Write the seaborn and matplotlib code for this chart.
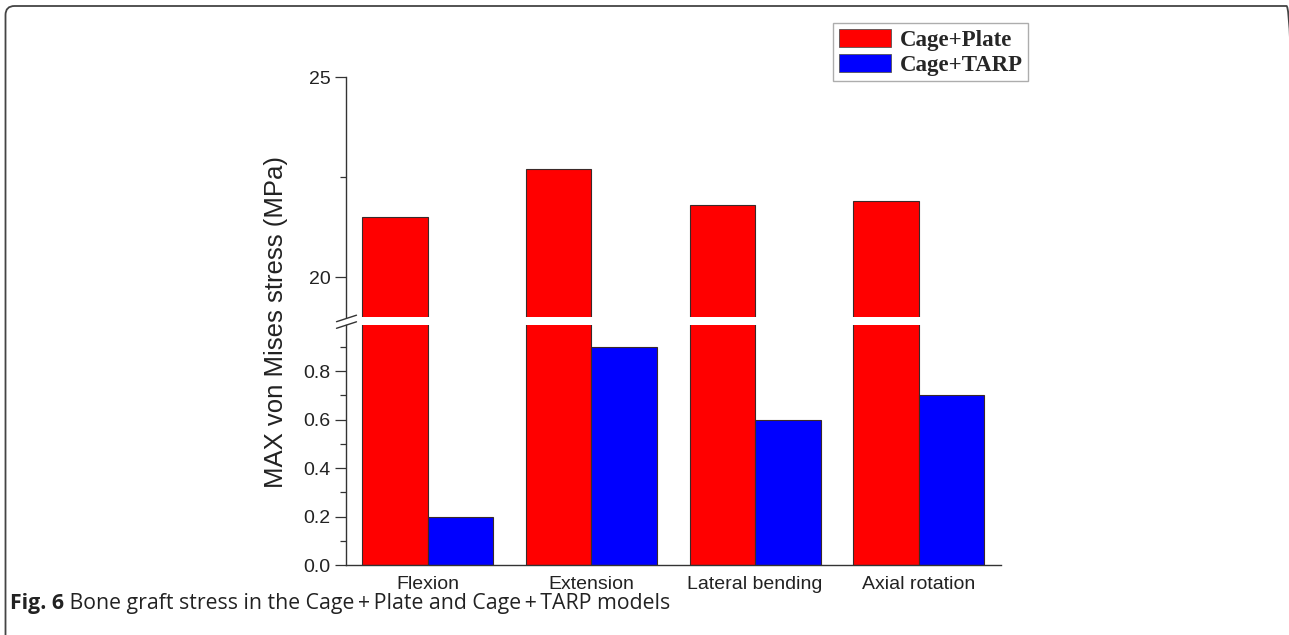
import matplotlib
matplotlib.use("Agg")
import matplotlib.pyplot as plt
from matplotlib.patches import FancyBboxPatch, Patch
from matplotlib.lines import Line2D
from matplotlib.transforms import IdentityTransform
from matplotlib.ticker import MultipleLocator, FixedLocator
import numpy as np
import pandas as pd
import seaborn as sns

# Bone graft stress values (MPa)
motions = ["Flexion", "Extension", "Lateral bending", "Axial rotation"]
models = ["Cage+Plate", "Cage+TARP"]
plate_stress = [21.5, 22.7, 21.8, 21.9]
tarp_stress = [0.2, 0.9, 0.6, 0.7]
model_colors = ["#FF0000", "#0000FF"]

df = pd.DataFrame({
    "motion": motions * 2,
    "model": [models[0]] * 4 + [models[1]] * 4,
    "stress": plate_stress + tarp_stress,
})

sns.set_style("white")
plt.rcParams["font.family"] = ["Liberation Sans", "DejaVu Sans"]

W, H = 1289, 635
fig = plt.figure(figsize=(W / 100, H / 100), dpi=100)


def frac(left, top, right, bottom):
    return [left / W, 1 - bottom / H, (right - left) / W, (bottom - top) / H]


ax_top = fig.add_axes(frac(346, 77, 1000.5, 317))
ax_bot = fig.add_axes(frac(346, 325, 1000.5, 565))

bar_kw = dict(data=df, x="motion", y="stress", hue="model", hue_order=models,
              order=motions, palette=model_colors, errorbar=None, legend=False,
              edgecolor="#3a2a2a", linewidth=0.8, saturation=1)
sns.barplot(ax=ax_top, **bar_kw)
sns.barplot(ax=ax_bot, **bar_kw)

spine_color = "#333333"
tick_color = "#333333"

# upper (broken) segment
ax_top.set_ylim(19, 25)
ax_top.yaxis.set_major_locator(FixedLocator([20, 25]))
ax_top.yaxis.set_minor_locator(FixedLocator([22.5]))
ax_top.set_xticks([])
ax_top.set_xlabel("")
ax_top.set_ylabel("")
for s in ["top", "right", "bottom"]:
    ax_top.spines[s].set_visible(False)

# lower segment
ax_bot.set_ylim(0, 0.99)
ax_bot.yaxis.set_major_locator(FixedLocator([0.0, 0.2, 0.4, 0.6, 0.8]))
ax_bot.yaxis.set_minor_locator(MultipleLocator(0.1))
ax_bot.set_yticklabels(["0.0", "0.2", "0.4", "0.6", "0.8"])
ax_bot.set_xlabel("")
ax_bot.set_ylabel("")
for s in ["top", "right"]:
    ax_bot.spines[s].set_visible(False)
ax_bot.tick_params(axis="x", length=0, pad=8, labelsize=14, labelcolor="#222222")

for ax in (ax_top, ax_bot):
    ax.set_xlim(-0.5, 3.5)
    ax.patch.set_alpha(0)
    for s in ["left", "bottom"]:
        ax.spines[s].set_color(spine_color)
        ax.spines[s].set_linewidth(1.0)
    ax.tick_params(axis="y", which="major", direction="out", length=8, width=0.9,
                   color=tick_color, labelsize=14, labelcolor="#222222", pad=3, left=True)
    ax.tick_params(axis="y", which="minor", direction="out", length=4.5, width=0.9,
                   color=tick_color, left=True)

# axis break marks
for y0 in (321.7, 328.3):
    fig.add_artist(Line2D([336.5, 356.5], [H - y0, H - y0 + 6.5], color="#333333",
                          linewidth=1.0, transform=IdentityTransform()))

fig.text(276 / W, 1 - 322 / H, "MAX von Mises stress (MPa)", rotation=90,
         ha="center", va="center", fontsize=18.5, color="#222222")

leg_handles = [Patch(facecolor=c, edgecolor="#555555", linewidth=0.6) for c in model_colors]
leg = fig.legend(leg_handles, models, loc="upper left",
                 bbox_to_anchor=(833 / W, 1 - 23 / H), borderaxespad=0,
                 prop={"family": "Liberation Serif", "weight": "bold", "size": 16.5},
                 frameon=True, fancybox=False, edgecolor="#999999",
                 handlelength=2.3, handleheight=0.85, handletextpad=0.35,
                 labelspacing=0.12, borderpad=0.25)
leg.get_frame().set_linewidth(1.0)

# caption
cap_font = ["Open Sans", "DejaVu Sans"]
fig_label = fig.text(10 / W, 1 - 609 / H, "Fig. 6", fontsize=15.3, fontweight="bold",
                     family=cap_font, color="#222222", ha="left", va="baseline")
fig.add_artist(plt.Annotation(" Bone graft stress in the Cage\u2009+\u2009Plate and Cage\u2009+\u2009TARP models",
                              xy=(1, 0), xycoords=fig_label, ha="left", va="bottom",
                              fontsize=15.3, family=cap_font, color="#222222"))

# rounded frame around the figure panel
frame = FancyBboxPatch((5.5, -30), 1290, 629 + 30, boxstyle="round,pad=0,rounding_size=9",
                       transform=IdentityTransform(), facecolor="none",
                       edgecolor="#444444", linewidth=1.3)
fig.add_artist(frame)

fig.savefig("out.png", dpi=100)
